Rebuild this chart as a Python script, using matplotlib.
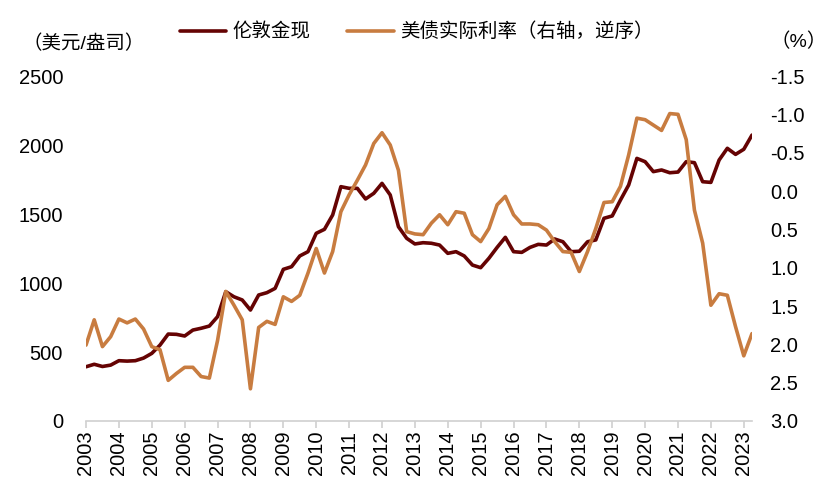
import matplotlib.pyplot as plt
from matplotlib.ticker import FormatStrFormatter

plt.rcParams['font.family'] = ['Liberation Sans', 'Noto Sans CJK SC']

# quarterly data, 2003Q1 - 2023Q2
years = [str(y) for y in range(2003, 2024)]

gold = [393, 411, 395, 405, 437, 434, 437, 456, 490, 550,
        630, 628, 616, 659, 672, 688, 756, 937, 900, 877,
        804, 913, 930, 961, 1099, 1118, 1196, 1227, 1360, 1389,
        1493, 1698, 1686, 1686, 1609, 1650, 1722, 1638, 1408, 1324,
        1283, 1292, 1288, 1275, 1215, 1227, 1196, 1130, 1111, 1179,
        1258, 1331, 1227, 1222, 1258, 1280, 1275, 1319, 1299, 1227,
        1230, 1299, 1312, 1469, 1486, 1601, 1710, 1903, 1879, 1807,
        1819, 1799, 1804, 1879, 1872, 1734, 1729, 1891, 1976, 1932,
        1969, 2072]

real_rate = [2.01, 1.68, 2.03, 1.90, 1.67, 1.72, 1.67, 1.80, 2.03, 2.07,
             2.47, 2.38, 2.30, 2.30, 2.42, 2.44, 1.95, 1.31, 1.49, 1.68,
             2.58, 1.78, 1.70, 1.74, 1.38, 1.44, 1.36, 1.07, 0.75, 1.07,
             0.79, 0.27, 0.05, -0.14, -0.34, -0.62, -0.76, -0.60, -0.27, 0.53,
             0.56, 0.57, 0.42, 0.31, 0.44, 0.27, 0.29, 0.57, 0.66, 0.49,
             0.18, 0.07, 0.31, 0.43, 0.43, 0.44, 0.51, 0.66, 0.79, 0.80,
             1.05, 0.79, 0.49, 0.15, 0.14, -0.06, -0.47, -0.95, -0.93, -0.86,
             -0.79, -1.01, -1.00, -0.67, 0.25, 0.68, 1.49, 1.34, 1.36, 1.77,
             2.15, 1.86]

dark = '#650303'
tan = '#C87C40'
fs = 14.5

fig = plt.figure(figsize=(8.4, 4.92), dpi=100)
ax = fig.add_axes([86 / 840, 1 - 421 / 492, (752 - 86) / 840, 345 / 492])
ax2 = ax.twinx()

x = list(range(len(gold)))
l1, = ax.plot(x, gold, color=dark, lw=2.6, solid_capstyle='round')
l2, = ax2.plot(x, real_rate, color=tan, lw=2.6, solid_capstyle='round')

ax.set_xlim(0, len(gold) - 1)
ax.set_ylim(0, 2500)
ax.set_yticks(range(0, 2501, 500))
ax2.set_ylim(3.0, -1.5)
ax2.set_yticks([-1.5 + 0.5 * k for k in range(10)])
ax2.yaxis.set_major_formatter(FormatStrFormatter('%.1f'))

ax.set_xticks(range(0, len(gold), 4))
ax.set_xticklabels(years, rotation=90, fontsize=fs)

for a in (ax, ax2):
    for s in ('top', 'left', 'right', 'bottom'):
        a.spines[s].set_visible(False)
ax.spines['bottom'].set_visible(True)
ax.spines['bottom'].set_color('#d0d0d0')
ax.spines['bottom'].set_linewidth(1.2)

ax.tick_params(axis='x', length=5, color='#d0d0d0', width=1.2, pad=2)
ax.tick_params(axis='y', length=0, labelsize=fs, pad=16.5)
ax2.tick_params(axis='y', length=0, labelsize=fs, pad=13)

fig.text(22 / 840, 1 - 44 / 492, '（美元/盎司）', fontsize=14, va='center', ha='left')
fig.text(770 / 840, 1 - 42 / 492, '（%）', fontsize=14, va='center', ha='left')

fig.legend([l1, l2], ['伦敦金现', '美债实际利率（右轴，逆序）'],
           loc='center left', bbox_to_anchor=(172 / 840, 1 - 32 / 492),
           ncol=2, frameon=False, fontsize=14, handlelength=2.4,
           handletextpad=0.3, columnspacing=1.9, borderaxespad=0)

fig.savefig('out.png', dpi=100)
